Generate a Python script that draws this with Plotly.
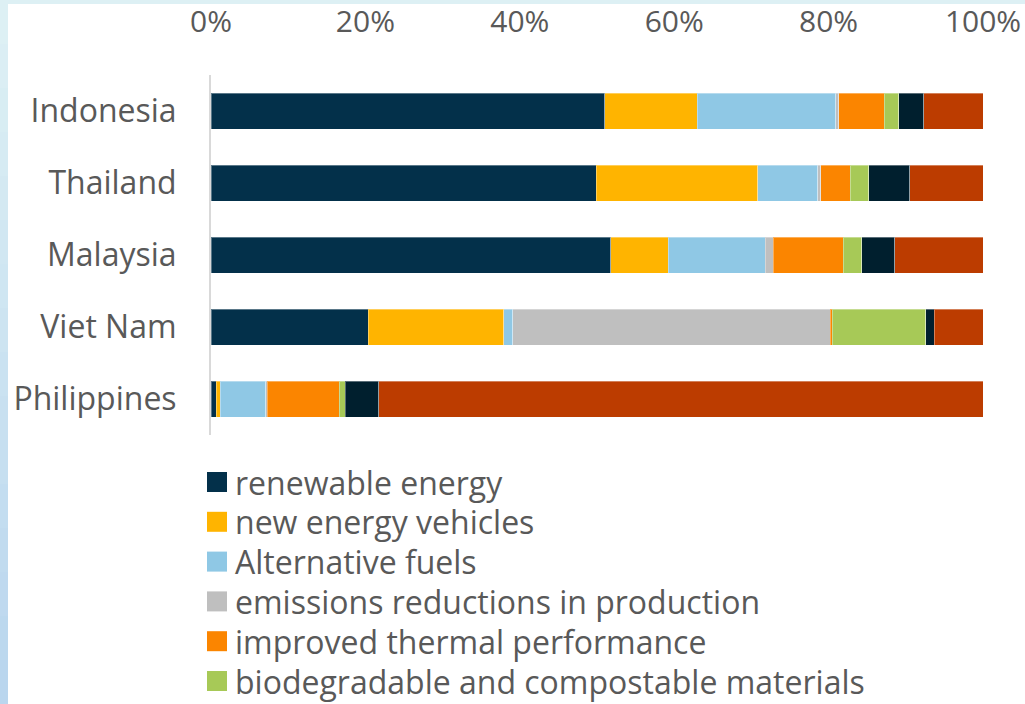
import plotly.graph_objects as go

# Share of green investment themes by country (percent of each country's total)
countries = ["Indonesia", "Thailand", "Malaysia", "Viet Nam", "Philippines"]

renewable_energy = [51.0, 49.9, 51.8, 20.4, 0.7]
new_energy_vehicles = [12.0, 20.9, 7.4, 17.5, 0.5]
alternative_fuels = [17.9, 7.8, 12.6, 1.2, 5.9]
emissions_reductions = [0.4, 0.4, 1.0, 41.1, 0.2]
thermal_performance = [5.9, 3.8, 9.1, 0.3, 9.3]
biodegradable = [1.9, 2.4, 2.4, 12.1, 0.8]
energy_efficiency = [3.2, 5.3, 4.3, 1.1, 4.3]
other = [7.7, 9.5, 11.4, 6.3, 78.3]

series_names = [
    "renewable energy",
    "new energy vehicles",
    "Alternative fuels",
    "emissions reductions in production",
    "improved thermal performance",
    "biodegradable and compostable materials",
    "energy efficiency",
    "other",
]
series_values = [
    renewable_energy, new_energy_vehicles, alternative_fuels, emissions_reductions,
    thermal_performance, biodegradable, energy_efficiency, other,
]
series_colors = [
    "#03304A", "#FFB400", "#8FC8E5", "#BFBFBF",
    "#FB8500", "#A7C957", "#001F2E", "#BC3C00",
]
x_ticks = [0, 20, 40, 60, 80, 100]
x_tick_labels = [f"{v}%" for v in x_ticks]

W, H = 1025, 704
ML, MR, MT, MB = 211, 42, 75, 269
PW, PH = W - ML - MR, H - MT - MB

TEXT = "#595959"
FONT = "Open Sans"

fig = go.Figure()
for name, vals, col in zip(series_names, series_values, series_colors):
    fig.add_trace(go.Bar(
        y=countries, x=vals, name=name, orientation="h",
        marker=dict(color=col, line=dict(color="rgba(255,255,255,0.35)", width=1)),
        showlegend=False,
        hovertemplate="%{y}: %{x:.1f}%<extra>" + name + "</extra>",
    ))


def px_x(px):
    return (px - ML) / PW


def px_y(py):
    return (H - MB - py) / PH


# Frame around the white panel: light cyan on top, fading to blue down the left edge
shapes = [
    dict(type="rect", xref="paper", yref="paper", layer="below",
         x0=px_x(0), x1=px_x(W), y0=px_y(H), y1=px_y(0),
         fillcolor="#DDF0F4", line=dict(width=0)),
]
bands = 16
top_rgb, bottom_rgb = (221, 240, 244), (186, 214, 238)
for k in range(bands):
    t = k / (bands - 1)
    rgb = tuple(round(a + (b - a) * t) for a, b in zip(top_rgb, bottom_rgb))
    shapes.append(dict(
        type="rect", xref="paper", yref="paper", layer="below",
        x0=px_x(0), x1=px_x(8),
        y0=px_y(H * (k + 1) / bands), y1=px_y(H * k / bands),
        fillcolor="rgb(%d,%d,%d)" % rgb, line=dict(width=0),
    ))
shapes.append(dict(
    type="rect", xref="paper", yref="paper", layer="below",
    x0=px_x(8), x1=px_x(W), y0=px_y(H), y1=px_y(4),
    fillcolor="#FFFFFF", line=dict(width=0),
))
annotations = []

# Legend: swatch and label for the first six themes
first_row, step, sw = 482, 39.8, 20
for i, (name, col) in enumerate(zip(series_names[:6], series_colors[:6])):
    cy = first_row + i * step
    shapes.append(dict(
        type="rect", xref="paper", yref="paper",
        x0=px_x(207), x1=px_x(207 + sw), y0=px_y(cy + sw / 2), y1=px_y(cy - sw / 2),
        fillcolor=col, line=dict(width=0),
    ))
    annotations.append(dict(
        xref="paper", yref="paper", x=px_x(233), y=px_y(cy),
        xanchor="left", yanchor="middle", showarrow=False, text=name,
        font=dict(family=FONT, size=32, color=TEXT),
    ))

fig.update_layout(
    width=W, height=H,
    margin=dict(l=ML, r=MR, t=MT, b=MB, autoexpand=False),
    paper_bgcolor="#FFFFFF",
    plot_bgcolor="rgba(0,0,0,0)",
    barmode="stack",
    bargap=0.5,
    font=dict(family=FONT, color=TEXT),
    shapes=shapes,
    annotations=annotations,
    xaxis=dict(
        side="top", range=[0, 100], tickmode="array",
        tickvals=x_ticks, ticktext=x_tick_labels,
        showgrid=False, zeroline=False, showline=False, ticks="",
        tickfont=dict(family=FONT, size=30, color=TEXT),
        ticklabelstandoff=36, automargin=False,
    ),
    yaxis=dict(
        autorange="reversed", showgrid=False, zeroline=False,
        showline=True, linecolor="#D9D9D9", linewidth=2, ticks="",
        tickfont=dict(family=FONT, size=32, color=TEXT),
        ticklabelstandoff=26, automargin=False,
    ),
)

fig.write_html("out.html")
